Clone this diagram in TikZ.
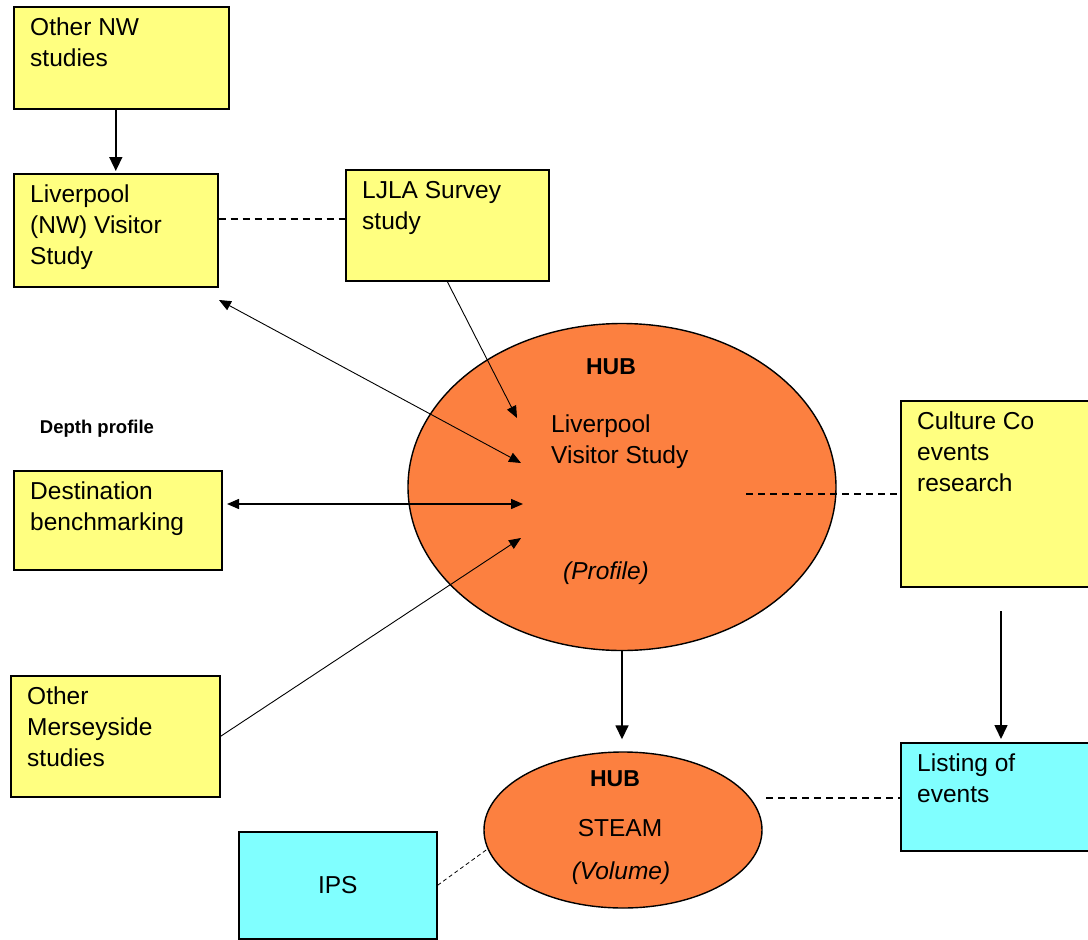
\documentclass[tikz,border=0pt]{standalone}
\usepackage{fontspec}
\setmainfont{Liberation Sans}
\usetikzlibrary{shapes.geometric,arrows.meta}
\definecolor{boxyellow}{RGB}{255,255,128}
\definecolor{huborange}{RGB}{252,128,64}
\definecolor{boxcyan}{RGB}{128,255,255}

\begin{document}
\begin{tikzpicture}[x=1pt,y=-1pt,
                every node/.style={font=\fontsize{24.5}{31}\selectfont},
                box/.style={draw,line width=1.6pt,anchor=north west,inner sep=0pt},
                ybox/.style={box,fill=boxyellow},
                cbox/.style={box,fill=boxcyan},
                boxtext/.style={anchor=north west,align=left,inner sep=0pt,xshift=17pt,yshift=-12pt},
                hub/.style={ellipse,draw,line width=1.4pt,fill=huborange,inner sep=0pt},
                arr/.style={-{Triangle[length=14pt,width=13pt]},line width=1.6pt},
                thinarr/.style={-{Triangle[length=12pt,width=10pt]},line width=0.9pt},
                dblarr/.style={{Triangle[length=12pt,width=10pt]}-{Triangle[length=12pt,width=10pt]},line width=0.9pt},
                link/.style={line width=1.8pt,dash pattern=on 7pt off 5pt},
                weaklink/.style={line width=0.8pt,dash pattern=on 4pt off 3pt}]
                \useasboundingbox (0,0) rectangle (1088,940);
                \clip (0,0) rectangle (1088,940);
                \node[ybox,minimum width=215pt,minimum height=102pt,
                      label={[boxtext]north west:{Other NW\\studies}}] (othernw) at (13,6) {};
                \node[ybox,minimum width=204pt,minimum height=113pt,
                      label={[boxtext]north west:{Liverpool\\(NW) Visitor\\Study}}] (lvnw) at (13,173) {};
                \node[ybox,minimum width=203pt,minimum height=111pt,
                      label={[boxtext]north west:{LJLA Survey\\study}}] (ljla) at (345,169) {};
                \node[ybox,minimum width=208pt,minimum height=99pt,
                      label={[boxtext]north west:{Destination\\benchmarking}}] (destbm) at (13,470) {};
                \node[ybox,minimum width=209pt,minimum height=121pt,
                      label={[boxtext]north west:{Other\\Merseyside\\studies}}] (mersey) at (10,675) {};
                \node[ybox,minimum width=200pt,minimum height=186pt,
                      label={[boxtext]north west:{Culture Co\\events\\research}}] (culture) at (900,400) {};
                \node[cbox,minimum width=200pt,minimum height=108pt,
                      label={[boxtext]north west:{Listing of\\events}}] (listing) at (900,742) {};
                \node[cbox,minimum width=198pt,minimum height=107pt] (ips) at (238,831) {IPS};
                \node[font=\fontsize{18.5}{22}\selectfont\bfseries] (depth) at (97,429) {Depth profile};
                \node[hub,minimum width=428pt,minimum height=327pt] (lvs) at (622,487) {};
                \node[font=\fontsize{23}{28}\selectfont\bfseries] (lvshub) at (611,367) {HUB};
                \node[anchor=north west,align=left,inner sep=0pt] (lvsname) at (551,415) {Liverpool\\Visitor Study};
                \node[font=\fontsize{24.5}{31}\selectfont\itshape] (lvsprof) at (606,573) {(Profile)};
                \node[hub,minimum width=278pt,minimum height=156pt] (steam) at (623,830) {};
                \node[font=\fontsize{23}{28}\selectfont\bfseries] (steamhub) at (615,779) {HUB};
                \node (steamname) at (620,828) {STEAM};
                \node[font=\fontsize{24.5}{31}\selectfont\itshape] (steamvol) at (621,873) {(Volume)};
                \coordinate (inA) at (517,418);
                \coordinate (inB) at (521,463);
                \coordinate (inC) at (523,504);
                \coordinate (inD) at (521,538);
                \coordinate (lvnwend) at (219,300);
                \coordinate (destend) at (227,504);
                \coordinate (lvsright) at (746,494);
                \coordinate (cultureout) at (1001,611);
                \coordinate (steamright) at (766,798);
                \draw[arr,shorten >=2pt] (lvnw.north |- othernw.south) -- (lvnw.north);
                \draw[link] ([yshift=11pt]lvnw.east) -- ([yshift=11pt]lvnw.east -| ljla.west);
                \draw[thinarr] (ljla.south) -- (inA);
                \draw[dblarr] (lvnwend) -- (inB);
                \draw[dblarr,line width=1.4pt] (destend) -- (inC);
                \draw[thinarr] (mersey.east) -- (inD);
                \draw[link] (lvsright) -- (lvsright -| culture.west);
                \draw[arr,shorten >=12pt] (lvs.south) -- (lvs.south |- steam.north);
                \draw[arr,shorten >=3pt] (cultureout) -- (cultureout |- listing.north);
                \draw[link] (steamright) -- (steamright -| listing.west);
                \draw[weaklink] (ips.east) -- (steam.188);
\end{tikzpicture}
\end{document}
